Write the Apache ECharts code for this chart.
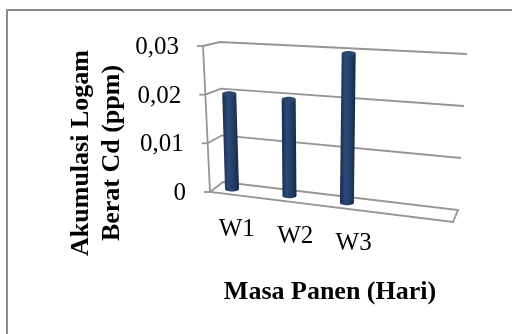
<!DOCTYPE html>
<html>
<head>
<meta charset="utf-8">
<script src="https://cdn.jsdelivr.net/npm/echarts@6/dist/echarts.min.js"></script>
<style>
  html, body { margin: 0; padding: 0; background: #fff; }
  #chart { width: 512px; height: 334px; }
</style>
</head>
<body>
<div id="chart"></div>
<script>
var categories = ['W1', 'W2', 'W3'];
var values = [0.0198, 0.0196, 0.0295];
var yTicks = [0, 0.01, 0.02, 0.03];
var yTickLabels = ['0', '0,01', '0,02', '0,03'];

var serif = '"Liberation Serif", "Times New Roman", serif';
var lineColor = '#959595';

// screen corners of the 3d box: back wall and front plane
var box = {
  back:  { tl: [220, 42], tr: [467, 54], bl: [223, 182], br: [458, 210] },
  front: { tl: [203, 46], tr: [459, 60], bl: [210, 192], br: [453, 222] }
};

function lerp(a, b, t) {
  return [a[0] + (b[0] - a[0]) * t, a[1] + (b[1] - a[1]) * t];
}
function face(f, u, v) {
  return lerp(lerp(f.bl, f.br, u), lerp(f.tl, f.tr, u), v);
}
// u: along categories, v: value fraction, d: depth (0 back, 1 front)
function project(u, v, d) {
  return lerp(face(box.back, u, v), face(box.front, u, v), d);
}
function toUV(params, api, x, y) {
  var p = api.coord([x, y]);
  var cs = params.coordSys;
  return [(p[0] - cs.x) / cs.width, (cs.y + cs.height - p[1]) / cs.height];
}

var chart = echarts.init(document.getElementById('chart'));

function renderGrid(params, api) {
  var v = toUV(params, api, api.value(0), api.value(1))[1];
  var idx = params.dataIndex;
  var fl = project(0, v, 1), bl = project(0, v, 0), br = project(1, v, 0);
  var children = [];
  var style = { stroke: lineColor, lineWidth: 1.8, fill: null };
  if (idx === 0) {
    children.push({
      type: 'polygon',
      shape: { points: [fl, bl, br, project(1, 0, 1)] },
      style: style
    });
    children.push({
      type: 'line',
      shape: { x1: fl[0], y1: fl[1], x2: project(0, 1, 1)[0], y2: project(0, 1, 1)[1] },
      style: style
    });
  } else {
    children.push({
      type: 'polyline',
      shape: { points: [fl, bl, br] },
      style: style
    });
  }
  children.push({
    type: 'line',
    shape: { x1: fl[0] - 6, y1: fl[1], x2: fl[0], y2: fl[1] },
    style: style
  });
  children.push({
    type: 'text',
    x: fl[0] - 24,
    y: fl[1] + 1.5,
    style: {
      text: yTickLabels[idx],
      align: 'right',
      verticalAlign: 'middle',
      fontFamily: serif,
      fontSize: 25,
      fill: '#000'
    }
  });
  return { type: 'group', children: children };
}

function renderBar(params, api) {
  var uv = toUV(params, api, api.value(0), api.value(1));
  var u = uv[0], v = uv[1];
  var bot = project(u, 0, 0.5), top = project(u, v, 0.5);
  var w = 7, ry = 2.5;
  var body = new echarts.graphic.LinearGradient(0, 0, 1, 0, [
    { offset: 0, color: '#182c4d' },
    { offset: 0.35, color: '#2a4a76' },
    { offset: 0.7, color: '#203c63' },
    { offset: 1, color: '#152847' }
  ]);
  var front = project(u, 0, 1);
  return {
    type: 'group',
    children: [
      {
        type: 'ellipse',
        shape: { cx: bot[0], cy: bot[1], rx: w, ry: ry },
        style: { fill: body }
      },
      {
        type: 'polygon',
        shape: { points: [[top[0] - w, top[1]], [top[0] + w, top[1]], [bot[0] + w, bot[1]], [bot[0] - w, bot[1]]] },
        style: { fill: body }
      },
      {
        type: 'ellipse',
        shape: { cx: top[0], cy: top[1], rx: w, ry: ry },
        style: { fill: '#2a4870' }
      },
      {
        type: 'text',
        x: front[0] + 11,
        y: front[1] + 35,
        style: {
          text: categories[params.dataIndex],
          align: 'center',
          verticalAlign: 'middle',
          fontFamily: serif,
          fontSize: 25,
          fill: '#000'
        }
      }
    ]
  };
}

var option = {
  animation: false,
  backgroundColor: '#fff',
  grid: { left: 0, right: 0, top: 0, bottom: 0 },
  xAxis: { type: 'value', min: -0.27, max: 3.89, show: false },
  yAxis: { type: 'value', min: 0, max: 0.03, show: false },
  graphic: [
    {
      type: 'polyline',
      shape: { points: [[7, 334], [7, 10], [512, 10]] },
      style: { stroke: '#8c8c8c', lineWidth: 2, fill: null }
    },
    {
      type: 'text',
      x: 330,
      y: 292,
      style: {
        text: 'Masa Panen (Hari)',
        align: 'center',
        verticalAlign: 'middle',
        fontFamily: serif,
        fontWeight: 'bold',
        fontSize: 26,
        fill: '#000'
      }
    },
    {
      type: 'text',
      x: 97,
      y: 153,
      rotation: Math.PI / 2,
      style: {
        text: 'Akumulasi Logam\nBerat Cd (ppm)',
        align: 'center',
        verticalAlign: 'middle',
        lineHeight: 31,
        fontFamily: serif,
        fontWeight: 'bold',
        fontSize: 26,
        fill: '#000'
      }
    }
  ],
  series: [
    {
      type: 'custom',
      z: 1,
      renderItem: renderGrid,
      data: yTicks.map(function (t) { return [-0.27, t]; })
    },
    {
      type: 'custom',
      z: 2,
      renderItem: renderBar,
      data: categories.map(function (c, i) { return [i, values[i]]; })
    }
  ]
};
chart.setOption(option);
</script>
</body>
</html>
